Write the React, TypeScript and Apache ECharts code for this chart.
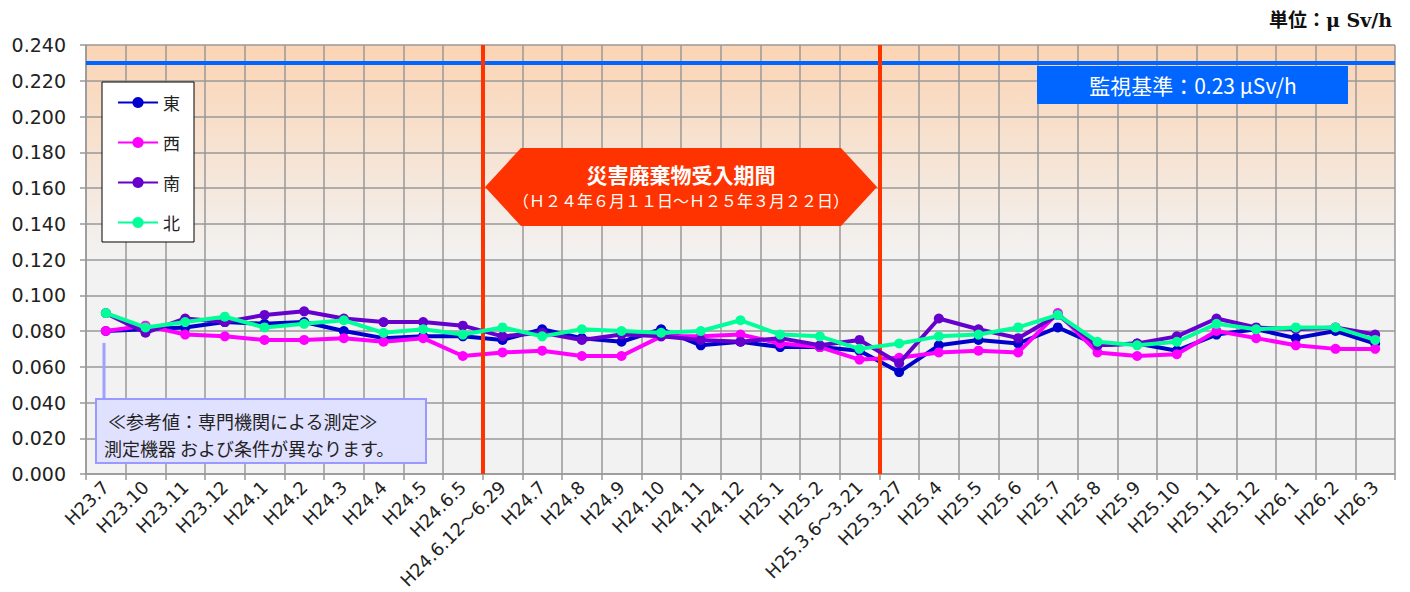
import React, { useEffect, useRef } from 'react';
import * as echarts from 'echarts';

const categories = ['H23.7','H23.10','H23.11','H23.12','H24.1','H24.2','H24.3','H24.4','H24.5','H24.6.5','H24.6.12～6.29','H24.7','H24.8','H24.9','H24.10','H24.11','H24.12','H25.1','H25.2','H25.3.6～3.21','H25.3.27','H25.4','H25.5','H25.6','H25.7','H25.8','H25.9','H25.10','H25.11','H25.12','H26.1','H26.2','H26.3'];

const east = [0.080,0.081,0.082,0.085,0.084,0.085,0.080,0.076,0.077,0.077,0.075,0.081,0.076,0.074,0.081,0.072,0.074,0.071,0.071,0.069,0.057,0.072,0.075,0.073,0.082,0.072,0.073,0.069,0.078,0.081,0.076,0.080,0.073];
const west = [0.080,0.083,0.078,0.077,0.075,0.075,0.076,0.074,0.076,0.066,0.068,0.069,0.066,0.066,0.077,0.077,0.078,0.073,0.071,0.064,0.065,0.068,0.069,0.068,0.090,0.068,0.066,0.067,0.080,0.076,0.072,0.070,0.070];
const south = [0.090,0.079,0.087,0.085,0.089,0.091,0.087,0.085,0.085,0.083,0.077,0.079,0.075,0.078,0.077,0.075,0.074,0.076,0.072,0.075,0.062,0.087,0.081,0.076,0.089,0.072,0.073,0.077,0.087,0.082,0.081,0.082,0.078];
const north = [0.090,0.082,0.085,0.088,0.082,0.084,0.086,0.079,0.081,0.078,0.082,0.077,0.081,0.080,0.079,0.080,0.086,0.078,0.077,0.070,0.073,0.077,0.078,0.082,0.089,0.074,0.072,0.074,0.084,0.081,0.082,0.082,0.075];

const seriesNames = ['東', '西', '南', '北'];
const seriesColors = ['#0000CC', '#FF00FF', '#6600CC', '#00FF99'];
const monitoringLevel = 0.23;
const periodBoundaries = [10, 20];

const yTicks = { min: 0, max: 0.24, interval: 0.02 };

const JP = "'Noto Sans CJK JP', 'Noto Sans', sans-serif";
const WIDE = "'DejaVu Sans', 'Noto Sans CJK JP', sans-serif";

export default function App() {
  const ref = useRef<HTMLDivElement>(null);
  useEffect(() => {
    document.body.style.margin = '0';
    const chart = echarts.init(ref.current!, null, { renderer: 'svg' });
    const datasets = [east, west, south, north];
    const series: any[] = datasets.map((d, i) => ({
      name: seriesNames[i],
      type: 'line',
      data: d,
      symbol: 'circle',
      symbolSize: 10,
      lineStyle: { width: 4, color: seriesColors[i] },
      itemStyle: { color: seriesColors[i] },
      z: 3 + i,
      markLine: i === 0 ? {
        silent: true,
        symbol: ['none', 'none'],
        label: { show: false },
        lineStyle: { color: '#0066FF', width: 4, type: 'solid' },
        data: [{ yAxis: monitoringLevel }],
        z: 2,
      } : undefined,
    }));
    series.push({
      name: 'period',
      type: 'line',
      xAxisIndex: 1,
      yAxisIndex: 0,
      data: [],
      z: 2,
      markLine: {
        silent: true,
        symbol: ['none', 'none'],
        label: { show: false },
        lineStyle: { color: '#FF3300', width: 4, type: 'solid' },
        data: periodBoundaries.map((b) => ({ xAxis: b })),
      },
    });

    chart.setOption({
      animation: false,
      textStyle: { fontFamily: JP },
      grid: {
        left: 86, top: 45, width: 1309, height: 429,
        show: true,
        borderWidth: 0,
        backgroundColor: new echarts.graphic.LinearGradient(0, 0, 0, 1, [
          { offset: 0, color: '#FBD4B4' },
          { offset: 0.5, color: '#F2F2F2' },
          { offset: 1, color: '#F2F2F2' },
        ]),
      },
      legend: {
        data: seriesNames,
        orient: 'vertical',
        left: 102, top: 82,
        itemWidth: 40, itemHeight: 14, itemGap: 23,
        backgroundColor: '#FFFFFF',
        borderColor: '#000000', borderWidth: 1, borderRadius: 0,
        padding: [12, 14, 11, 15],
        textStyle: { fontSize: 17, color: '#222', fontFamily: JP },
        selectedMode: false,
      },
      xAxis: [
        {
          type: 'category',
          data: categories,
          boundaryGap: true,
          axisLine: { lineStyle: { color: '#999', width: 1.5 } },
          axisTick: { show: true, length: 6, interval: 0, lineStyle: { color: '#999', width: 1.5 } },
          splitLine: { show: true, interval: 0, lineStyle: { color: '#999', width: 1.5 } },
          axisLabel: { rotate: 45, interval: 0, fontSize: 18, color: '#222', margin: 10, fontFamily: WIDE },
        },
        { type: 'value', min: 0, max: categories.length, show: false },
      ],
      yAxis: {
        type: 'value',
        min: yTicks.min, max: yTicks.max, interval: yTicks.interval,
        axisLine: { show: true, lineStyle: { color: '#999', width: 1.5 } },
        axisTick: { show: true, length: 6, lineStyle: { color: '#999', width: 1.5 } },
        splitLine: { show: true, lineStyle: { color: '#999', width: 1.5 } },
        axisLabel: { fontSize: 19, color: '#222', margin: 20, fontFamily: WIDE, formatter: (v: number) => v.toFixed(3) },
      },
      series,
      graphic: [
        { type: 'text', right: 18, top: 10, z: 100, style: { text: '単位：μ Sv/h', font: "bold 19px 'DejaVu Serif', 'Noto Sans CJK JP', serif", fill: '#111' } },
        { type: 'rect', shape: { x: 1037, y: 66, width: 311, height: 38 }, z: 100, style: { fill: '#0066FF' } },
        { type: 'text', x: 1193, y: 85, z: 101, style: { text: '監視基準：0.23 μSv/h', font: `21px ${JP}`, fill: '#FFFFFF', align: 'center', verticalAlign: 'middle' } },
        { type: 'polygon', z: 100, shape: { points: [[485, 187], [521, 148], [841, 148], [877, 187], [841, 226], [521, 226]] }, style: { fill: '#FF3300' } },
        { type: 'text', x: 681, y: 174, z: 101, style: { text: '災害廃棄物受入期間', font: `bold 21px ${JP}`, fill: '#FFFFFF', align: 'center', verticalAlign: 'middle' } },
        { type: 'text', x: 681, y: 200, z: 101, style: { text: '（Ｈ２４年６月１１日～Ｈ２５年３月２２日）', font: `16px ${JP}`, fill: '#FFFFFF', align: 'center', verticalAlign: 'middle' } },
        { type: 'line', z: 100, shape: { x1: 104, y1: 343, x2: 104, y2: 399 }, style: { stroke: '#A0A0FF', lineWidth: 3 } },
        { type: 'rect', z: 100, shape: { x: 96, y: 399, width: 330, height: 64 }, style: { fill: '#E0E0FF', stroke: '#9999FF', lineWidth: 2 } },
        { type: 'text', x: 108, y: 421, z: 101, style: { text: '≪参考値：専門機関による測定≫', font: `18px ${JP}`, fill: '#222', verticalAlign: 'middle' } },
        { type: 'text', x: 104, y: 448, z: 101, style: { text: '測定機器 および条件が異なります。', font: `18px ${JP}`, fill: '#222', verticalAlign: 'middle' } },
      ],
    });
    return () => chart.dispose();
  }, []);
  return <div ref={ref} style={{ position: 'absolute', left: 0, top: 0, width: 1410, height: 592 }} />;
}
